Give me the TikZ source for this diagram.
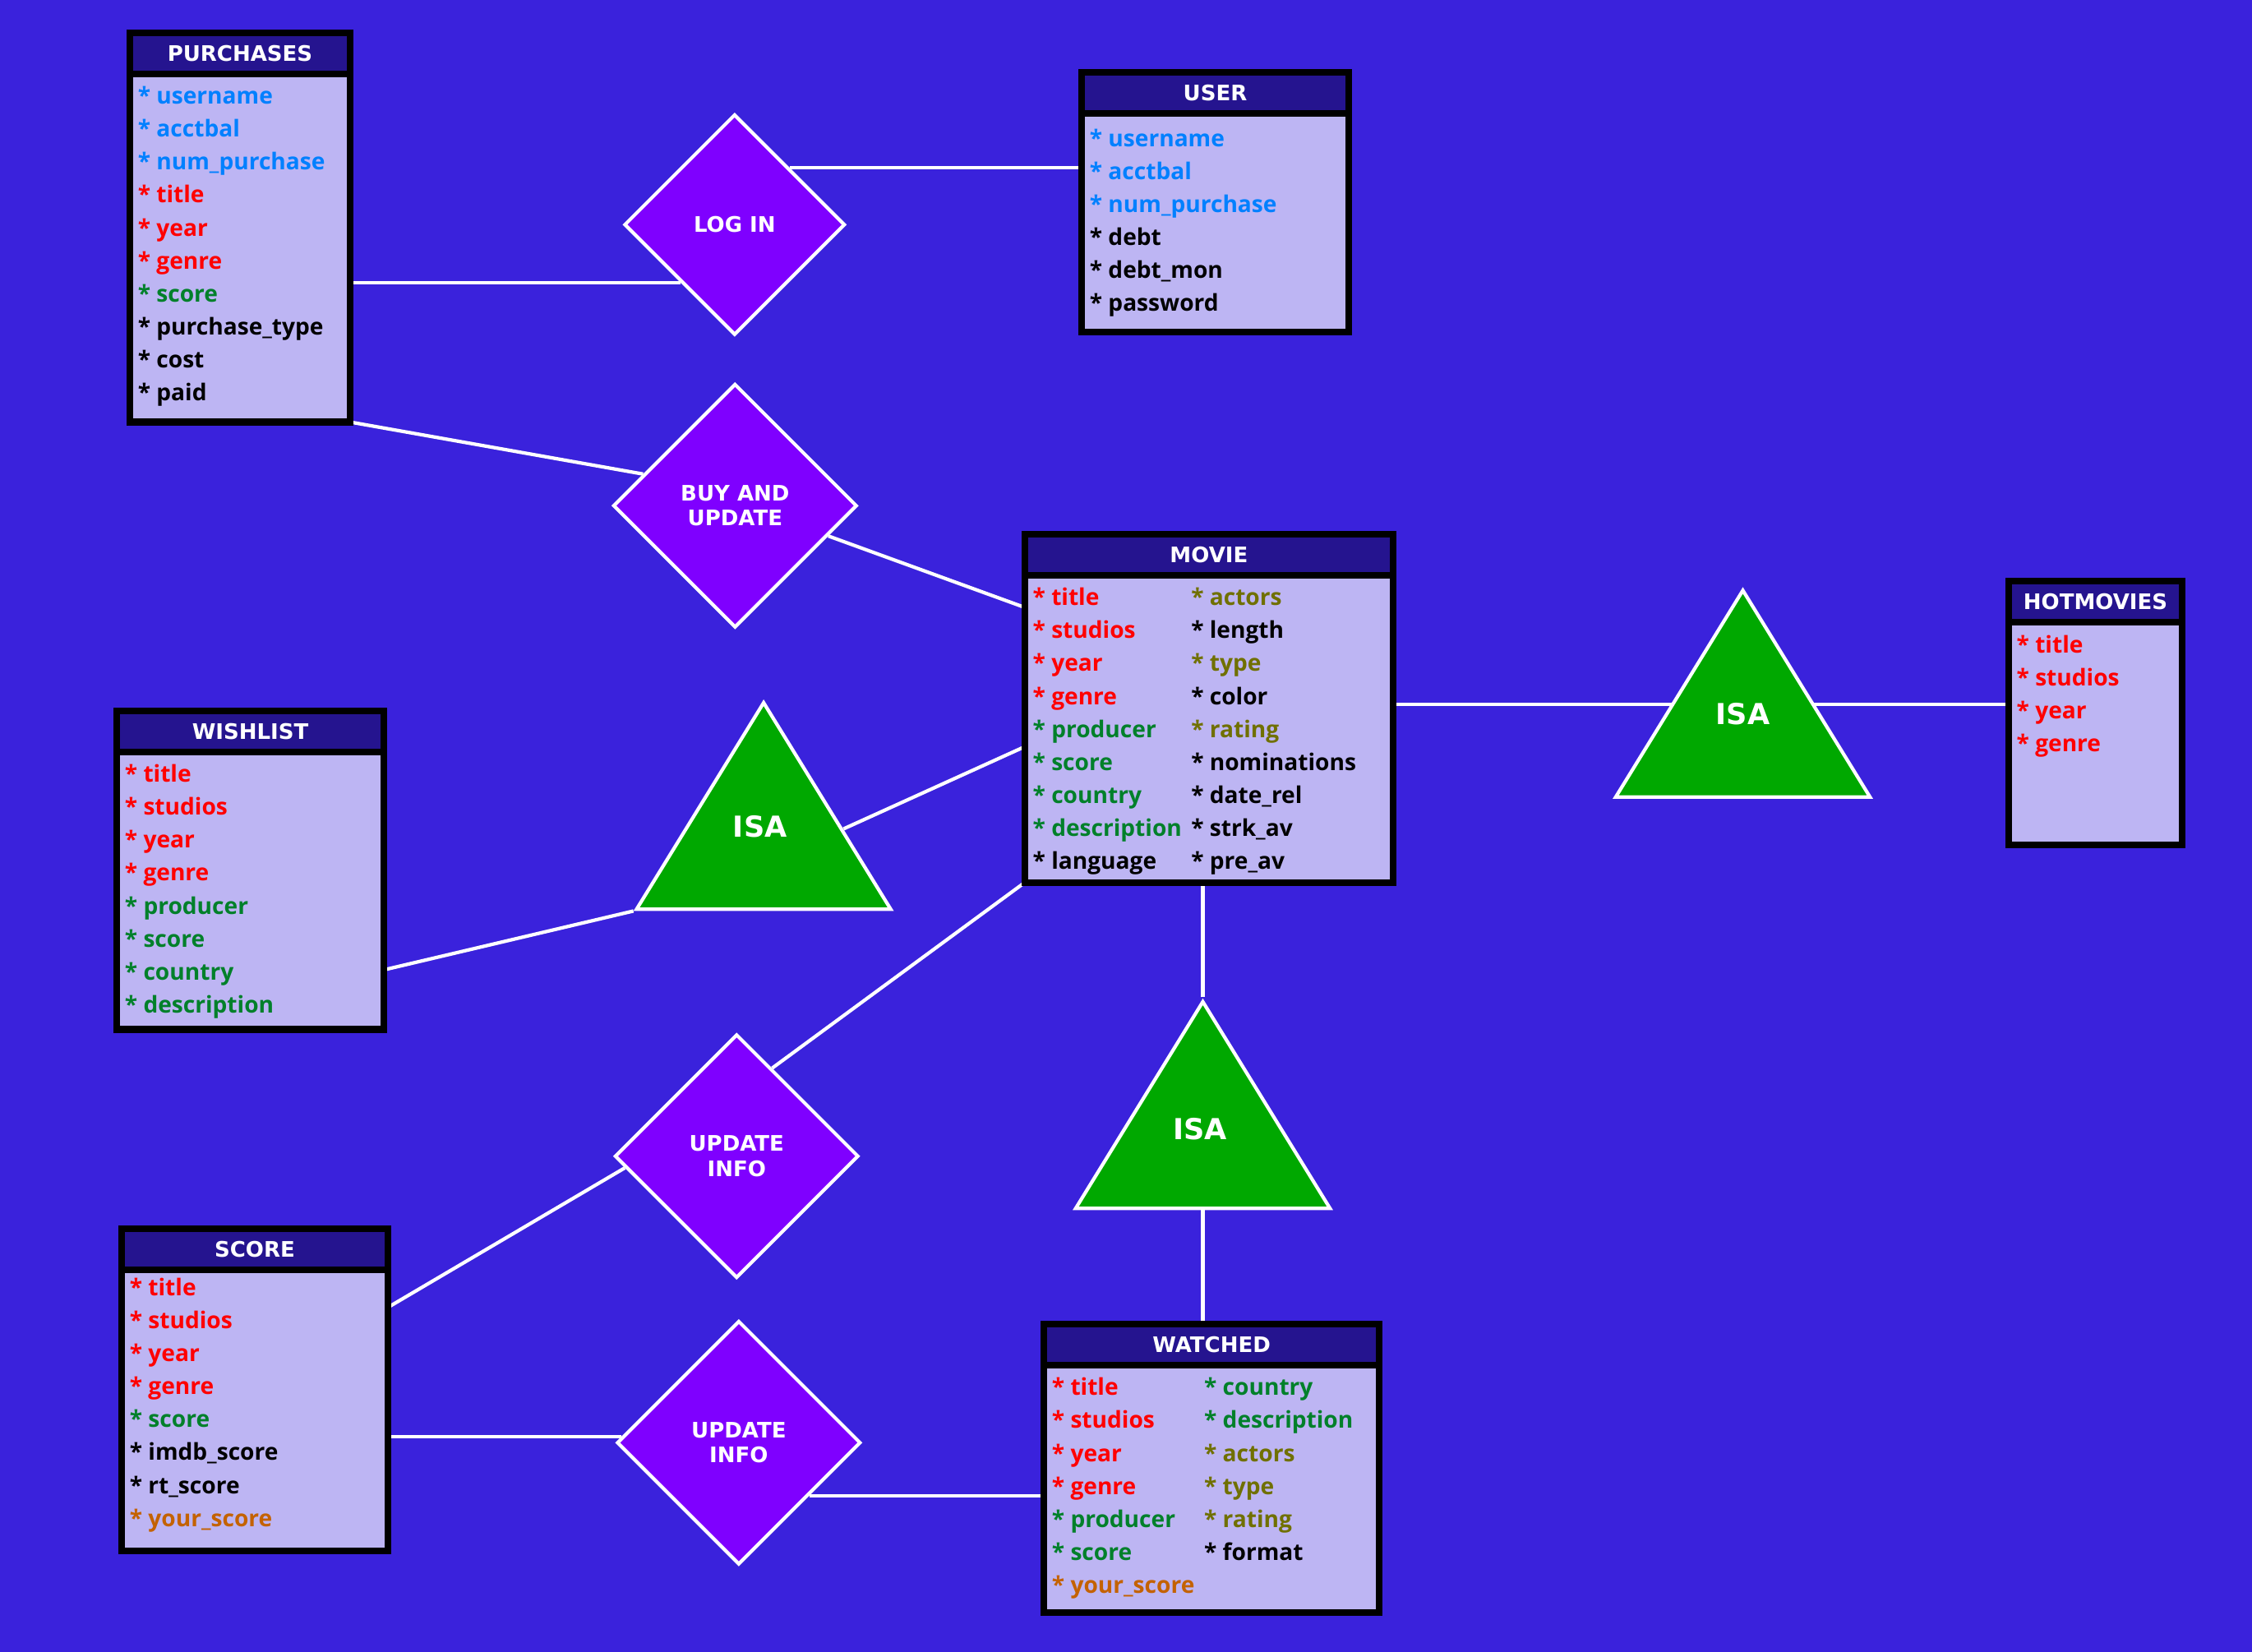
\documentclass[tikz,border=0pt]{standalone}
\usepackage{fontspec}
\setmainfont{Open Sans}
\newfontfamily\titlefont{DejaVu Sans}
\usetikzlibrary{shapes,shapes.geometric,shapes.multipart,calc}

\definecolor{bgblue}{HTML}{3A22DC}
\definecolor{hdrblue}{HTML}{25148F}
\definecolor{bodylav}{HTML}{BDB5F3}
\definecolor{relviolet}{HTML}{7F00FF}
\definecolor{isagreen}{HTML}{00A800}
\definecolor{keyblue}{HTML}{0080FF}
\definecolor{keyred}{HTML}{FF0000}
\definecolor{attgreen}{HTML}{00802A}
\definecolor{attolive}{HTML}{707000}
\definecolor{attorange}{HTML}{C46200}

\pgfdeclarelayer{background}
\pgfdeclarelayer{edges}
\pgfsetlayers{background,edges,main}

\newdimen\px \px=0.4972pt
\newcommand{\attr}[2]{\textcolor{#1}{* #2}}
\newcommand{\lcol}[2]{\makebox[#1][l]{#2}}
\newcommand{\enthead}[2]{\parbox[c][24\px][c]{\dimexpr#1\px-5.6pt\relax}{\centering\titlefont\bfseries\fontsize{7.4pt}{9pt}\selectfont\color{white}#2}}
\newcommand{\entbody}[4][9.3pt]{\parbox[t][\dimexpr#3\px-4.6\px\relax][t]{\dimexpr#2\px-5.6pt\relax}{\raggedright\rule{0pt}{#1}#4}}

\tikzstyle{entity} = [rectangle split, rectangle split parts=2, draw=black,
    line width=2.3pt, rectangle split part fill={hdrblue,bodylav},
    inner xsep=2.8pt, inner ysep=0pt, outer sep=0pt, anchor=north west,
    font=\fontsize{8pt}{11.4pt}\selectfont\bfseries]
\tikzstyle{relation} = [diamond, draw=white, line width=1.2pt, fill=relviolet,
    text=white, inner sep=0pt, align=center, minimum width=84.4pt, minimum height=84.4pt,
    font=\titlefont\bfseries\fontsize{7.4pt}{8.6pt}\selectfont]
\tikzstyle{isa} = [isosceles triangle, isosceles triangle stretches, shape border rotate=90,
    draw=white, line width=1.2pt, fill=isagreen, inner sep=0pt,
    minimum width=88pt, minimum height=71.5pt, anchor=lower side]
\tikzstyle{isatext} = [text=white, inner sep=0pt, font=\titlefont\bfseries\fontsize{10pt}{11pt}\selectfont]
\tikzstyle{line} = [draw=white, line width=1.2pt]

\begin{document}
\begin{tikzpicture}[x=0.4972pt, y=-0.4972pt]
      \useasboundingbox (0,0) rectangle (1568,1150);
      \begin{pgfonlayer}{background}
        \fill [bgblue] (0,0) rectangle (1568,1150);
      \end{pgfonlayer}

      \node [entity] (purch) at (90.4,22.9) {\enthead{153.4}{PURCHASES}\nodepart{two}\entbody{153.4}{242.3}{%
        \attr{keyblue}{username}\\
        \attr{keyblue}{acctbal}\\
        \attr{keyblue}{num\_purchase}\\
        \attr{keyred}{title}\\
        \attr{keyred}{year}\\
        \attr{keyred}{genre}\\
        \attr{attgreen}{score}\\
        \attr{black}{purchase\_type}\\
        \attr{black}{cost}\\
        \attr{black}{paid}}};
      \node [entity] (user) at (753.1,50.4) {\enthead{186}{USER}\nodepart{two}\entbody[10.2pt]{186}{152.1}{%
        \attr{keyblue}{username}\\
        \attr{keyblue}{acctbal}\\
        \attr{keyblue}{num\_purchase}\\
        \attr{black}{debt}\\
        \attr{black}{debt\_mon}\\
        \attr{black}{password}}};
      \node [entity] (movie) at (713.5,372) {\enthead{256.5}{MOVIE}\nodepart{two}\entbody{256.5}{213.8}{%
        \lcol{54.8pt}{\attr{keyred}{title}}\attr{attolive}{actors}\\
        \lcol{54.8pt}{\attr{keyred}{studios}}\attr{black}{length}\\
        \lcol{54.8pt}{\attr{keyred}{year}}\attr{attolive}{type}\\
        \lcol{54.8pt}{\attr{keyred}{genre}}\attr{black}{color}\\
        \lcol{54.8pt}{\attr{attgreen}{producer}}\attr{attolive}{rating}\\
        \lcol{54.8pt}{\attr{attgreen}{score}}\attr{black}{nominations}\\
        \lcol{54.8pt}{\attr{attgreen}{country}}\attr{black}{date\_rel}\\
        \lcol{54.8pt}{\attr{attgreen}{description}}\attr{black}{strk\_av}\\
        \lcol{54.8pt}{\attr{black}{language}}\attr{black}{pre\_av}}};
      \node [entity] (hot) at (1398.5,404.8) {\enthead{121}{HOTMOVIES}\nodepart{two}\entbody{121}{154.7}{%
        \attr{keyred}{title}\\
        \attr{keyred}{studios}\\
        \attr{keyred}{year}\\
        \attr{keyred}{genre}}};
      \node [entity] (wish) at (81.3,495) {\enthead{186}{WISHLIST}\nodepart{two}\entbody{186}{193.1}{%
        \attr{keyred}{title}\\
        \attr{keyred}{studios}\\
        \attr{keyred}{year}\\
        \attr{keyred}{genre}\\
        \attr{attgreen}{producer}\\
        \attr{attgreen}{score}\\
        \attr{attgreen}{country}\\
        \attr{attgreen}{description}}};
      \node [entity] (score) at (84.7,855.6) {\enthead{185.4}{SCORE}\nodepart{two}\entbody[7.8pt]{185.4}{195.5}{%
        \attr{keyred}{title}\\
        \attr{keyred}{studios}\\
        \attr{keyred}{year}\\
        \attr{keyred}{genre}\\
        \attr{attgreen}{score}\\
        \attr{black}{imdb\_score}\\
        \attr{black}{rt\_score}\\
        \attr{attorange}{your\_score}}};
      \node [entity] (watched) at (726.8,922) {\enthead{233.5}{WATCHED}\nodepart{two}\entbody{233.5}{172.1}{%
        \lcol{52.7pt}{\attr{keyred}{title}}\attr{attgreen}{country}\\
        \lcol{52.7pt}{\attr{keyred}{studios}}\attr{attgreen}{description}\\
        \lcol{52.7pt}{\attr{keyred}{year}}\attr{attolive}{actors}\\
        \lcol{52.7pt}{\attr{keyred}{genre}}\attr{attolive}{type}\\
        \lcol{52.7pt}{\attr{attgreen}{producer}}\attr{attolive}{rating}\\
        \lcol{52.7pt}{\attr{attgreen}{score}}\attr{black}{format}\\
        \attr{attorange}{your\_score}}};

      \node [relation, minimum width=76.4pt, minimum height=76.4pt] (login) at (511.5,156.4) {LOG IN};
      \node [relation] (buy) at (511.8,352.1) {BUY AND\\UPDATE};
      \node [relation] (upd1) at (512.9,805) {UPDATE\\INFO};
      \node [relation] (upd2) at (514.4,1004.5) {UPDATE\\INFO};

      \node [isa] (isaL) at (531.7,634.3) {};
      \node [isa] (isaR) at (1213.5,556.1) {};
      \node [isa] (isaB) at (837.5,842.5) {};
      \node [isatext] (isaLtext) at ($(isaL.apex)!0.605!(isaL.lower side)+(-2.5,0)$) {ISA};
      \node [isatext] (isaRtext) at ($(isaR.apex)!0.6!(isaR.lower side)$) {ISA};
      \node [isatext] (isaBtext) at ($(isaB.apex)!0.62!(isaB.lower side)+(-2,0)$) {ISA};

      \begin{pgfonlayer}{edges}
        \path [line] (login.227.5 -| purch.east) -- (login.227.5);
        \path [line] (login.46.6) -- (login.46.6 -| user.west);
        \path [line] (purch.south east) -- (buy.161.2);
        \path [line] (buy.342.9) -- ($(movie.north west)!0.21!(movie.south west)$);
        \path [line] ($(movie.north west)!0.61!(movie.south west)$) -- ($(isaL.apex)!0.614!(isaL.right corner)$);
        \path [line] ($(wish.north east)!0.813!(wish.south east)$) -- (isaL.left corner);
        \path [line] (movie.south west) -- (upd1.68.8);
        \path [line] (upd1.186) -- ($(score.north east)!0.244!(score.south east)$);
        \path [line] (upd2.177.4 -| score.east) -- (upd2.177.4);
        \path [line] (upd2.323.4) -- (upd2.323.4 -| watched.west);
        \path [line] (isaB.apex |- movie.south) -- (isaB.apex);
        \path [line] (isaB.lower side) -- (isaB.lower side |- watched.north);
        \path [line] ($(movie.north east)!0.488!(movie.south east)$) coordinate (mr) -- (mr -| isaR.apex);
        \path [line] (mr -| isaR.apex) -- (mr -| hot.west);
      \end{pgfonlayer}
  \end{tikzpicture}
\end{document}
